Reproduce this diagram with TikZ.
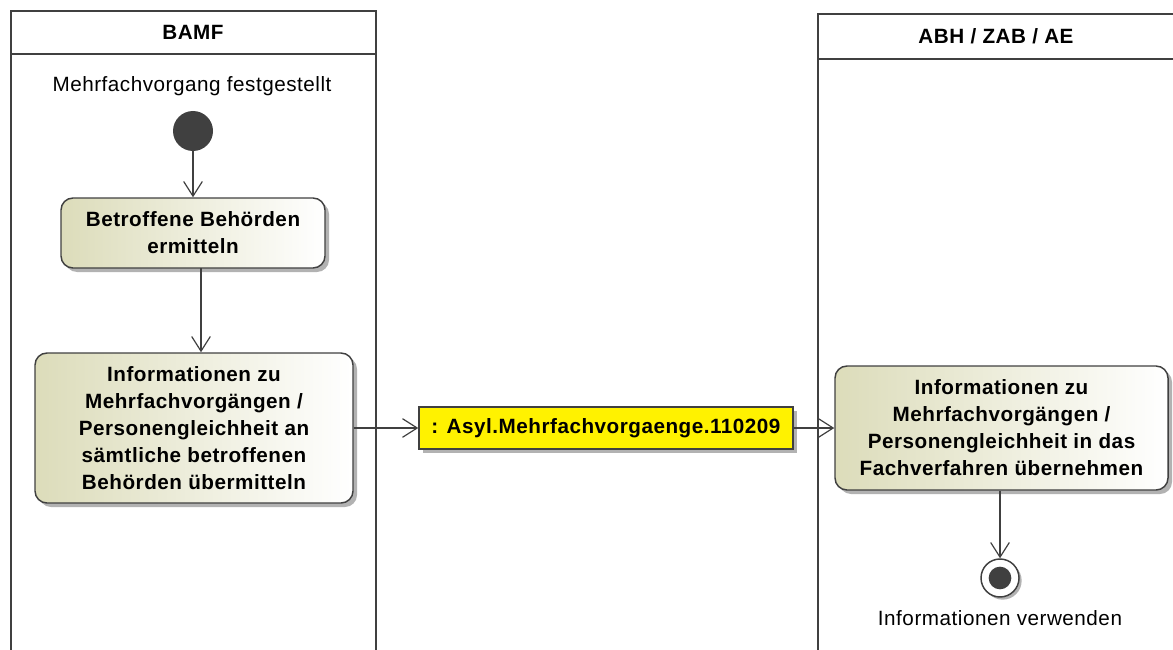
\documentclass[tikz,border=0pt]{standalone}
\usepackage{fontspec}
\setmainfont{Liberation Sans}[LetterSpace=2.5]
\usetikzlibrary{arrows.meta,shadows}
\definecolor{ln}{HTML}{404040}
\definecolor{boxl}{RGB}{220,220,186}
\tikzset{
  lane/.style={draw=ln, line width=2.2pt},
  act/.style={draw=ln, line width=1.1pt, rounded corners=9pt, left color=boxl, right color=white,
     align=center, font=\bfseries\fontsize{15.5}{20.25}\selectfont, inner sep=0pt,
     drop shadow={shadow xshift=3pt, shadow yshift=-3pt, fill=black!30, opacity=1}},
  obj/.style={draw=ln, line width=1.1pt, fill=yellow, font=\bfseries\fontsize{15.5}{18}\selectfont, inner sep=0pt,
     drop shadow={shadow xshift=3pt, shadow yshift=-3pt, fill=black!30, opacity=1}},
  flow/.style={draw=ln, line width=0.9pt, -{Straight Barb[length=11pt,width=14pt,line width=0.9pt]}},
  lbl/.style={font=\fontsize{15.5}{18}\selectfont, inner sep=0pt},
  title/.style={font=\bfseries\fontsize{15.5}{18}\selectfont, inner sep=0pt},
}
\begin{document}
\begin{tikzpicture}[x=0.75pt,y=-0.75pt]
\useasboundingbox (0,0) rectangle (1173,649);
% lanes
\begin{scope}
\clip (0,0) rectangle (1173,649);
\draw[lane] (11,700) -- (11,11) -- (376,11) -- (376,700);
\draw[lane] (11,54) -- (376,54);
\draw[lane] (818,700) -- (818,14) -- (1200,14);
\draw[lane] (818,59) -- (1200,59);
\end{scope}
\node[title] (t1) at (193,32) {BAMF};
\node[title] (t2) at (996,36) {ABH / ZAB / AE};
% start
\node[lbl] (startlbl) at (192,86) {Mehrfachvorgang festgestellt};
\node[circle, fill=ln, minimum size=30pt, inner sep=0pt] (start) at (193,131) {};
% activities
\node[act, minimum width=198pt, minimum height=52.5pt] (a1) at (193,233) {Betroffene Behörden\\ermitteln};
\node[act, minimum width=238.5pt, minimum height=112.5pt] (a2) at (194,428) {Informationen zu\\Mehrfachvorgängen /\\Personengleichheit an\\sämtliche betroffenen\\Behörden übermitteln};
\node[obj, minimum width=280.5pt, minimum height=31.5pt] (o1) at (606,428) {: Asyl.Mehrfachvorgaenge.110209};
\node[act, minimum width=249.75pt, minimum height=93pt] (a3) at (1001.5,428) {Informationen zu\\Mehrfachvorgängen /\\Personengleichheit in das\\Fachverfahren übernehmen};
% end
\node[circle, draw=ln, line width=1.1pt, fill=white, minimum size=28.5pt, inner sep=0pt,
  drop shadow={shadow xshift=2pt, shadow yshift=-2pt, fill=black!30, opacity=1}] (end) at (1000,578) {};
\node[circle, fill=ln, minimum size=17pt, inner sep=0pt] (endin) at (end.center) {};
\node[lbl] (endlbl) at (1000,618) {Informationen verwenden};
% flows
\draw[flow] (start) -- (start |- a1.north);
\draw[flow] (201,268) coordinate (c1) -- (c1 |- a2.north);
\draw[flow] (a2.east) -- (o1.west);
\draw[flow] (o1.east) -- (a3.west);
\draw[flow] (a3.south -| end) -- (end.north);
\end{tikzpicture}
\end{document}
